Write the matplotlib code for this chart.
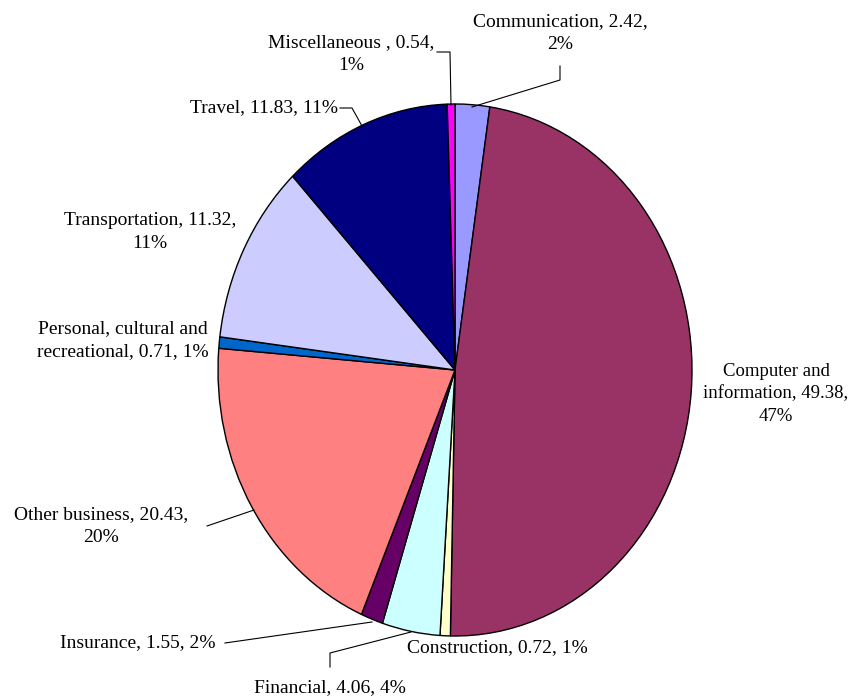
import matplotlib
matplotlib.use("Agg")
import matplotlib.pyplot as plt

# data (clockwise from 12 o'clock)
categories = ["Communication", "Computer and\ninformation", "Construction", "Financial",
              "Insurance", "Other business", "Personal, cultural and\nrecreational",
              "Transportation", "Travel", "Miscellaneous "]
values = [2.42, 49.38, 0.72, 4.06, 1.55, 20.43, 0.71, 11.32, 11.83, 0.54]
pct_labels = ["2%", "47%", "1%", "4%", "2%", "20%", "1%", "11%", "11%", "1%"]
colors = ["#9999FF", "#993366", "#FFFFCC", "#CCFFFF", "#660066",
          "#FF8080", "#0066CC", "#CCCCFF", "#000080", "#FF00FF"]

label_texts = [
    "Communication, 2.42,\n2%",
    "Computer and\ninformation, 49.38,\n47%",
    "Construction, 0.72, 1%",
    "Financial, 4.06, 4%",
    "Insurance, 1.55, 2%",
    "Other business, 20.43,\n20%",
    "Personal, cultural and\nrecreational, 0.71, 1%",
    "Transportation, 11.32,\n11%",
    "Travel, 11.83, 11%",
    "Miscellaneous , 0.54,\n1%",
]

W, H = 853, 699
cx, cy, rx, ry = 455, 370, 237, 266

def px(x, y):
    # pixel -> data coords
    return (x - cx) / rx, (cy - y) / ry

plt.rcParams["font.family"] = ["Liberation Serif", "DejaVu Serif"]
fig = plt.figure(figsize=(W / 100, H / 100), dpi=100)
ax = fig.add_axes([0, 0, 1, 1])
wedges, _ = ax.pie(values, colors=colors, startangle=90, counterclock=False,
                   wedgeprops=dict(edgecolor="black", linewidth=1.0))
ax.set_xlim(-cx / rx, (W - cx) / rx)
ax.set_ylim(-(H - cy) / ry, cy / ry)
ax.set_aspect("auto")
ax.axis("off")

fs = 14
# label positions in pixels (center of text block)
pos = [(560, 33), (776, 394), (497, 648), (330, 688), (138, 643),
       (101, 526), (123, 340), (150, 232), (264, 108), (351, 54)]
sizes = [fs, 13.5, fs, fs, fs, fs, fs, fs, fs, fs]
for t, (x, y), s in zip(label_texts, pos, sizes):
    tx, ty = px(x, y)
    ax.text(tx, ty, t, ha="center", va="center", fontsize=s, linespacing=1.45)

# leader lines (pixel paths)
leaders = [
    [(560, 66), (560, 80), (472, 107)],
    [(437, 52), (450, 52), (451, 105)],
    [(340, 108), (352, 108), (362, 126)],
    [(207, 526), (254, 510)],
    [(225, 643), (372, 622)],
    [(330, 667), (330, 653), (411, 632)],
]
for path in leaders:
    xs, ys = zip(*[px(x, y) for x, y in path])
    ax.plot(xs, ys, color="black", linewidth=0.8)

fig.savefig("out.png", dpi=100)
